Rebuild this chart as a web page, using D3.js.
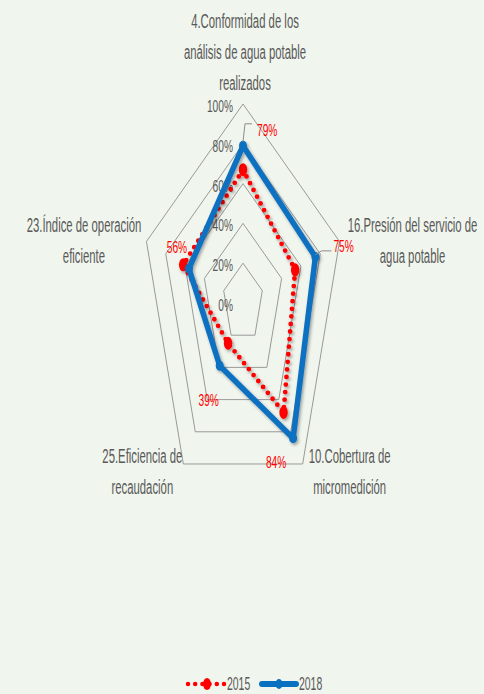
<!DOCTYPE html>
<html><head><meta charset="utf-8">
<script src="https://cdn.jsdelivr.net/npm/d3@7"></script>
<style>
html,body{margin:0;padding:0;background:#f0f5ed;}
svg{display:block;font-family:"Liberation Sans",Arial,sans-serif;}
</style></head>
<body>
<svg id="chart" width="484" height="694"></svg>
<script>
// ---- data ----
const categories = [
  ["4.Conformidad de los", "análisis de agua potable", "realizados"],
  ["16.Presión del servicio de", "agua potable"],
  ["10.Cobertura de", "micromedición"],
  ["25.Eficiencia de", "recaudación"],
  ["23.Índice de operación", "eficiente"]
];
const values2015 = [0.67, 0.54, 0.68, 0.25, 0.62];
const values2018 = [0.79, 0.75, 0.84, 0.39, 0.56];
const dataLabels2018 = ["79%", "75%", "84%", "39%", "56%"];
const ringTicks = [0, 0.2, 0.4, 0.6, 0.8, 1.0];
const tickLabels = ["0%", "20%", "40%", "60%", "80%", "100%"];
const seriesNames = ["2015", "2018"];

// ---- layout ----
const svg = d3.select("#chart");
const cx = 243, cy = 303;
const rY = d3.scaleLinear().domain([0, 1]).range([0, 199]);
const rX = d3.scaleLinear().domain([0, 1]).range([0, 101.5]);
const ang = d3.scaleLinear().domain([0, categories.length]).range([0, 2 * Math.PI]);
const px = (i, v) => cx + rX(v) * Math.sin(ang(i));
const py = (i, v) => cy - rY(v) * Math.cos(ang(i));
const TS = 0.6; // horizontal condensing of text
const grey = "#595959";

const defs = svg.append("defs");
const f = defs.append("filter").attr("id", "shadow").attr("x", "-20%").attr("y", "-20%").attr("width", "140%").attr("height", "140%");
f.append("feDropShadow").attr("dx", 1.5).attr("dy", 2).attr("stdDeviation", 1.8)
  .attr("flood-color", "#000").attr("flood-opacity", 0.35);

function txt(g, x, y, s, opts) {
  return g.append("text")
    .attr("transform", `translate(${x},${y}) scale(${opts.sx || TS},1)`)
    .attr("text-anchor", opts.anchor || "middle")
    .attr("font-size", opts.size)
    .attr("fill", opts.fill || grey)
    .text(s);
}

// rings
const idx = d3.range(categories.length);
const ringLine = d3.line().x(d => d[0]).y(d => d[1]);
svg.append("g").selectAll("path").data(ringTicks.filter(t => t > 0)).join("path")
  .attr("d", t => ringLine(idx.map(i => [px(i, t), py(i, t)])) + "Z")
  .attr("fill", "none").attr("stroke", "#9a9a9a").attr("stroke-width", 1);

// tick labels
const tg = svg.append("g");
ringTicks.forEach((t, k) => txt(tg, cx - 10, py(0, t) + 8, tickLabels[k], {size: 17, anchor: "end", sx: 0.6}));

// category labels (offsets from outer vertex)
const catOffsets = [[2, -76], [73, -9.5], [47, -1], [-41, -1], [-62.5, -9.5]];
const cg = svg.append("g");
categories.forEach((lines, i) => {
  const bx = px(i, 1) + catOffsets[i][0], by = py(i, 1) + catOffsets[i][1];
  lines.forEach((l, j) => txt(cg, bx, by + j * 31, l, {size: 21, sx: 0.54}));
});

// series 2015 (red dotted)
const lineGen = d3.line().x((d, i) => px(i, d)).y((d, i) => py(i, d));
const g15 = svg.append("g").attr("filter", "url(#shadow)");
g15.append("path").attr("d", lineGen(values2015) + "Z")
  .attr("fill", "none").attr("stroke", "#ff0000").attr("stroke-width", 4.8)
  .attr("stroke-dasharray", "0,7.6").attr("stroke-linecap", "round");
g15.selectAll("ellipse").data(values2015).join("ellipse")
  .attr("cx", (d, i) => px(i, d)).attr("cy", (d, i) => py(i, d))
  .attr("rx", 4.2).attr("ry", 6.5).attr("fill", "#ff0000");

// series 2018 (blue)
const g18 = svg.append("g").attr("filter", "url(#shadow)");
g18.append("path").attr("d", lineGen(values2018) + "Z")
  .attr("fill", "none").attr("stroke", "#0a70c0").attr("stroke-width", 5.5)
  .attr("stroke-linejoin", "round");
g18.selectAll("ellipse").data(values2018).join("ellipse")
  .attr("cx", (d, i) => px(i, d)).attr("cy", (d, i) => py(i, d))
  .attr("rx", 4).attr("ry", 5).attr("fill", "#0a70c0");

// data labels with leaders
const labOffsets = [[14, -10, "start"], [18, -5, "start"], [-17, 30, "middle"], [-11, 40, "middle"], [-12, -16, "middle"]];
const leaders = [[[0, -4], [2, -22], [9, -22]], [[0, -2], [6, -6], [16, -6]], null, null, null];
const lg = svg.append("g");
values2018.forEach((v, i) => {
  const x = px(i, v), y = py(i, v);
  if (leaders[i]) {
    lg.append("path").attr("d", d3.line()(leaders[i].map(p => [x + p[0], y + p[1]])))
      .attr("fill", "none").attr("stroke", "#8c8c8c").attr("stroke-width", 1);
  }
  txt(lg, x + labOffsets[i][0], y + labOffsets[i][1], dataLabels2018[i], {size: 17, anchor: labOffsets[i][2], fill: "#ff0000"});
});

// legend
const leg = svg.append("g");
const ly = 684;
leg.append("line").attr("x1", 188).attr("x2", 225).attr("y1", ly).attr("y2", ly)
  .attr("stroke", "#ff0000").attr("stroke-width", 4.5).attr("stroke-dasharray", "0,7.2").attr("stroke-linecap", "round");
leg.append("ellipse").attr("cx", 207).attr("cy", ly).attr("rx", 4).attr("ry", 6).attr("fill", "#ff0000");
txt(leg, 227, 690, seriesNames[0], {size: 18, anchor: "start", sx: 0.58});
leg.append("line").attr("x1", 262).attr("x2", 296).attr("y1", ly).attr("y2", ly)
  .attr("stroke", "#0a70c0").attr("stroke-width", 6).attr("stroke-linecap", "round");
leg.append("ellipse").attr("cx", 279).attr("cy", ly).attr("rx", 3.5).attr("ry", 5).attr("fill", "#0a70c0");
txt(leg, 299, 690, seriesNames[1], {size: 18, anchor: "start", sx: 0.58});
</script>
</body></html>
